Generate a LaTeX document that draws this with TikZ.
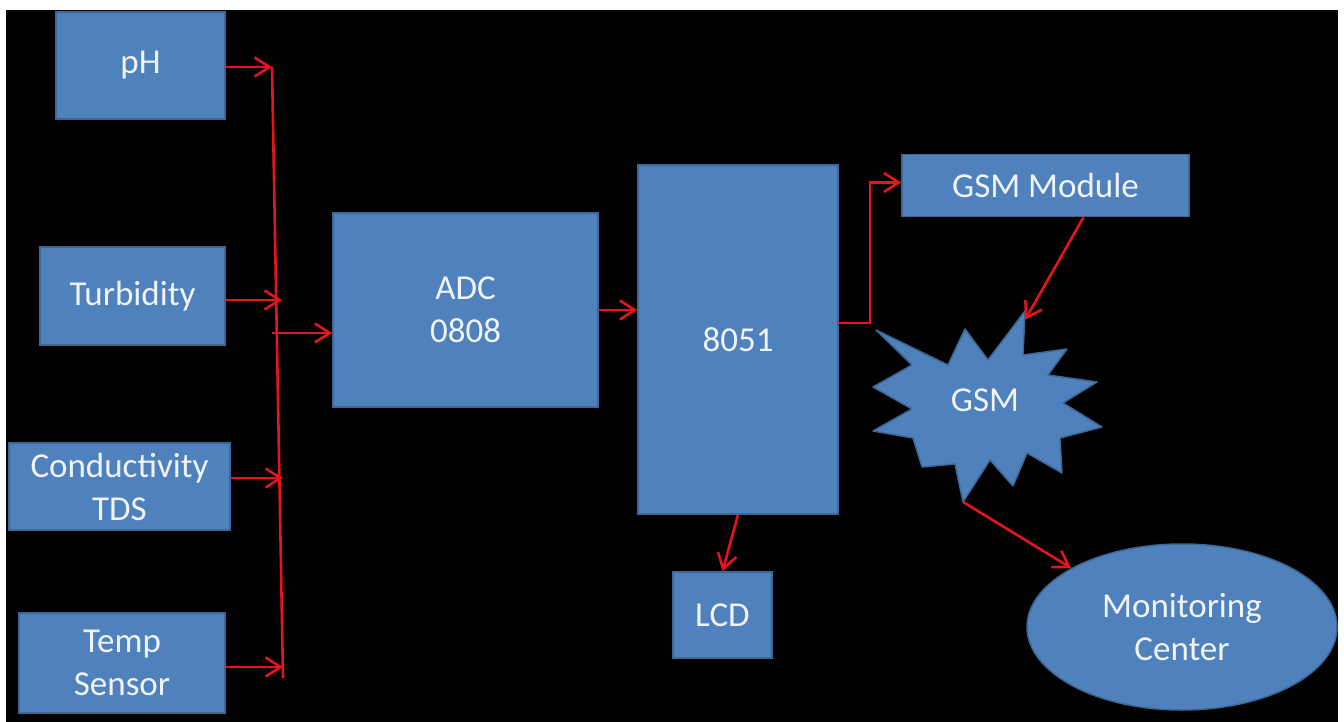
\documentclass[tikz,border=0pt]{standalone}
\usepackage{fontspec}
\setmainfont{Carlito}
\usepackage{xcolor}
\usetikzlibrary{arrows.meta}
\usetikzlibrary{shapes.geometric, calc}
\definecolor{boxblue}{HTML}{4F81BD}
\definecolor{boxline}{HTML}{3D6794}
\definecolor{wire}{HTML}{E4161B}
\definecolor{labeltext}{HTML}{F0F4FA}

\begin{document}
\begin{tikzpicture}[x=1pt,y=-1pt]
		\tikzset{block/.style = {shape=rectangle, draw=boxline, line width=1.5pt, fill=boxblue, text=labeltext, align=center, inner sep=0pt, font=\fontsize{35}{43}\selectfont}}
		\tikzset{oval/.style = {block, shape=ellipse}}
		\tikzset{link/.style = {draw=wire, line width=2.6pt, -{Straight Barb[length=15pt,width=19pt,line width=2.6pt]}}}
		\tikzset{bus/.style = {draw=wire, line width=2.6pt}}

		\useasboundingbox (0,0) rectangle (1344,722);
		\fill[white] (0,0) rectangle (1344,722);
		\fill[black] (6,10) rectangle (1338,722);

		\node[block, minimum width=169pt, minimum height=107pt] (ph) at (140.5,65.5) {pH};
		\node[block, minimum width=185pt, minimum height=98pt] (turb) at (132.5,296) {Turbidity};
		\node[block, minimum width=221pt, minimum height=87pt] (cond) at (119.5,486.5) {Conductivity\\TDS};
		\node[block, minimum width=206pt, minimum height=100pt] (temp) at (122,663) {Temp\\Sensor};
		\node[block, minimum width=265pt, minimum height=194pt] (adc) at (465.5,310) {ADC\\0808};
		\node[block, minimum width=200pt, minimum height=349pt] (mcu) at (738,339.5) {8051};
		\node[block, minimum width=287pt, minimum height=62pt] (gsmmod) at (1045.5,185.5) {GSM Module};
		\node[block, minimum width=99pt, minimum height=86pt] (lcd) at (722.5,615) {LCD};
		\node[oval, minimum width=310pt, minimum height=166pt] (mon) at (1182,627) {Monitoring\\Center};

		\filldraw[fill=boxblue, draw=boxline, line width=1.5pt, line join=round]
			(876,330) -- (948,365) -- (965,329) -- (988,360) -- (1025,311) -- (1023,355)
			-- (1067,349) -- (1048,375) -- (1097,382) -- (1063,403) -- (1102,427) -- (1060,438)
			-- (1062,473) -- (1027,453) -- (1013,486) -- (990,460) -- (963,502) -- (955,464)
			-- (922,467) -- (913,438) -- (873,431) -- (912,409) -- (873,387) -- (912,365) -- cycle;
		\node[text=labeltext, font=\fontsize{35}{43}\selectfont] (gsm) at (985,400) {GSM};
		\coordinate (gsm_top) at (1025,320);
		\coordinate (gsm_bot) at (963,502);

		\coordinate (bus_top) at (272,67);
		\coordinate (bus_bot) at (283,678);
		\coordinate (in_B) at (282,300);
		\coordinate (in_C) at (283,478);
		\coordinate (in_D) at (283,667);
		\coordinate (tap) at (272,333);
		\coordinate (mcu_out) at (838,323);

		\draw[bus] (bus_top) to (bus_bot);
		\draw[link] (ph.east |- bus_top) to (bus_top);
		\draw[link] (turb.east |- in_B) to (in_B);
		\draw[link] (cond.east |- in_C) to (in_C);
		\draw[link] (temp.east |- in_D) to (in_D);
		\draw[link] (tap) to (tap -| adc.west);
		\draw[link] (adc.east) to (adc.east -| mcu.west);
		\draw[link] (mcu_out) -- ++(32,0) |- ($(gsmmod.west)+(0,-3)$);
		\draw[link] ($(gsmmod.south)+(38,0)$) to (gsm_top);
		\draw[link] (gsm_bot) to (mon.152);
		\draw[link] (mcu.south) to (lcd.north);

	\end{tikzpicture}
\end{document}
